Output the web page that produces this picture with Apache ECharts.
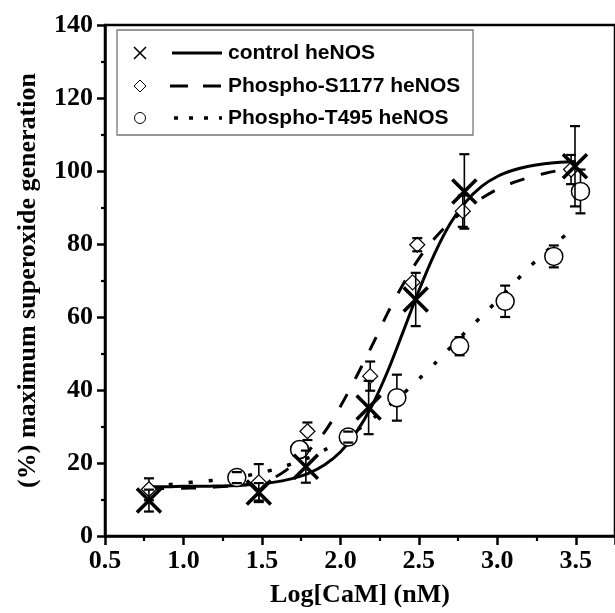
<!DOCTYPE html>
<html><head><meta charset="utf-8">
<script src="https://cdn.jsdelivr.net/npm/echarts@6/dist/echarts.min.js"></script>
<style>html,body{margin:0;padding:0;background:#fff}#c{width:615px;height:613px}</style>
</head><body><div id="c"></div>
<script>
// ---- data ----
const seriesNames = ['control heNOS', 'Phospho-S1177 heNOS', 'Phospho-T495 heNOS'];

const ctrlX   = [0.78, 1.48, 1.78, 2.18, 2.48, 2.79, 3.495];
const ctrlY   = [9.7, 11.9, 19.0, 35.2, 64.8, 94.4, 101.3];
const ctrlErr = [3.0, 2.6, 4.4, 7.3, 7.3, 10.2, 11.0];

const s1177X   = [0.78, 1.48, 1.79, 2.19, 2.46, 2.49, 2.78, 3.47];
const s1177Y   = [12.8, 14.7, 28.7, 43.8, 69.5, 79.8, 89.0, 100.4];
const s1177Err = [3.0, 5.0, 2.4, 4.0, 0, 1.8, 4.3, 4.0];

const t495X   = [1.34, 1.74, 2.05, 2.36, 2.76, 3.05, 3.36, 3.53];
const t495Y   = [16.0, 23.7, 27.1, 37.9, 52.0, 64.3, 76.6, 94.4];
const t495Err = [1.5, 0, 1.5, 6.3, 2.5, 4.3, 3.0, 6.0];

// fitted curves
const fitX = [0.78, 0.9, 1.0, 1.1, 1.2, 1.3, 1.4, 1.5, 1.6, 1.7, 1.8, 1.9, 2.0, 2.1, 2.2, 2.3, 2.4, 2.5, 2.6, 2.7, 2.8, 2.9, 3.0, 3.1, 3.2, 3.3, 3.4, 3.5];
const ctrlFitY  = [13.5, 13.5, 13.6, 13.6, 13.7, 13.8, 14.0, 14.3, 14.9, 15.8, 17.2, 19.5, 23.0, 28.3, 35.6, 45.0, 56.0, 67.2, 77.3, 85.6, 91.6, 95.8, 98.5, 100.2, 101.3, 102.0, 102.4, 102.6];
const s1177FitY = [13.0, 13.0, 13.1, 13.2, 13.4, 13.7, 14.1, 14.8, 16.5, 19.5, 23.5, 28.5, 35.5, 43.5, 52.0, 61.0, 69.0, 76.0, 81.5, 86.0, 89.5, 92.5, 95.0, 96.8, 98.2, 99.3, 100.2, 100.8];
const t495FitX  = [0.78, 0.9, 1.0, 1.1, 1.2, 1.3, 1.4, 1.5, 1.6, 1.7, 1.8, 1.9, 2.0, 2.1, 2.2, 2.3, 2.4, 2.5, 2.6, 2.7, 2.8, 2.9, 3.0, 3.1, 3.2, 3.3, 3.4, 3.45];
const t495FitY  = [13.5, 14.0, 14.5, 14.9, 15.3, 15.9, 16.5, 17.4, 18.5, 19.9, 21.5, 23.6, 26.0, 28.8, 32.0, 35.4, 39.0, 43.0, 47.2, 51.6, 56.0, 60.2, 64.5, 69.0, 73.5, 77.5, 81.2, 83.0];

const xTickLabels = ['0.5', '1.0', '1.5', '2.0', '2.5', '3.0', '3.5'];
const yTickLabels = ['0', '20', '40', '60', '80', '100', '120', '140'];

// ---- helpers ----
const zip2 = (a, b) => a.map((v, i) => [v, b[i]]);
const zip3 = (a, b, c) => a.map((v, i) => [v, b[i], c[i]]);

// Origin-style error bars: stems start at the symbol edge
function makeErr(r) {
  return function (params, api) {
    const x = api.value(0), y = api.value(1), e = api.value(2);
    if (!e) return null;
    const c = api.coord([x, y]);
    const t = api.coord([x, y + e]);
    const b = api.coord([x, y - e]);
    const cw = 5;
    const st = { stroke: '#000', lineWidth: 1.6 };
    const cs = { stroke: '#000', lineWidth: 2.2 };
    const ch = [
      { type: 'line', shape: { x1: t[0] - cw, y1: t[1], x2: t[0] + cw, y2: t[1] }, style: cs },
      { type: 'line', shape: { x1: b[0] - cw, y1: b[1], x2: b[0] + cw, y2: b[1] }, style: cs }
    ];
    if (t[1] < c[1] - r) ch.push({ type: 'line', shape: { x1: c[0], y1: c[1] - r, x2: t[0], y2: t[1] }, style: st });
    if (b[1] > c[1] + r) ch.push({ type: 'line', shape: { x1: c[0], y1: c[1] + r, x2: b[0], y2: b[1] }, style: st });
    return { type: 'group', children: ch };
  };
}

const serif = '"Liberation Serif", "Times New Roman", serif';
const sans = '"Liberation Sans", Arial, sans-serif';
const xPath = 'path://M0,0L10,10M10,0L0,10';

const chart = echarts.init(document.getElementById('c'), null, { renderer: 'canvas' });

// legend drawn as graphic
const lgX = 117, lgY = 30, rowY = [53, 86, 118];
const legendGraphic = [
  { type: 'rect', shape: { x: lgX, y: lgY, width: 356, height: 105 }, style: { fill: '#fff', stroke: '#777', lineWidth: 1.3 }, z: 10 },
  { type: 'line', shape: { x1: 134, y1: rowY[0] - 6, x2: 146, y2: rowY[0] + 6 }, style: { stroke: '#000', lineWidth: 1.6 }, z: 11 },
  { type: 'line', shape: { x1: 146, y1: rowY[0] - 6, x2: 134, y2: rowY[0] + 6 }, style: { stroke: '#000', lineWidth: 1.6 }, z: 11 },
  { type: 'polygon', shape: { points: [[140, rowY[1] - 6], [146, rowY[1]], [140, rowY[1] + 6], [134, rowY[1]]] }, style: { fill: '#fff', stroke: '#000', lineWidth: 1 }, z: 11 },
  { type: 'circle', shape: { cx: 140, cy: rowY[2], r: 5.5 }, style: { fill: '#fff', stroke: '#000', lineWidth: 1 }, z: 11 },
  { type: 'line', shape: { x1: 172, y1: rowY[0], x2: 222, y2: rowY[0] }, style: { stroke: '#000', lineWidth: 3 }, z: 11 },
  { type: 'line', shape: { x1: 170, y1: rowY[1], x2: 222, y2: rowY[1] }, style: { stroke: '#000', lineWidth: 3, lineDash: [18, 15] }, z: 11 },
  { type: 'line', shape: { x1: 174, y1: rowY[2], x2: 222, y2: rowY[2] }, style: { stroke: '#000', lineWidth: 3.5, lineDash: [4, 11] }, z: 11 }
].concat(seriesNames.map((n, i) => ({
  type: 'text', x: 228, y: rowY[i], z: 11,
  style: { text: n, fill: '#000', font: 'bold 21px ' + sans, textVerticalAlign: 'middle' }
})));

const option = {
  animation: false,
  backgroundColor: '#fff',
  grid: { left: 105, top: 25, width: 513, height: 512, show: true, borderColor: '#000', borderWidth: 2.5, backgroundColor: 'transparent' },
  xAxis: {
    type: 'value', min: 0.5, max: 3.75, interval: 0.5,
    name: 'Log[CaM] (nM)', nameLocation: 'middle', nameGap: 46,
    nameTextStyle: { fontFamily: serif, fontWeight: 'bold', fontSize: 26, color: '#000' },
    axisLine: { onZero: false, lineStyle: { color: '#000', width: 2.5 } },
    axisTick: { length: 9, lineStyle: { color: '#000', width: 2.5 } },
    minorTick: { show: true, splitNumber: 2, length: 5, lineStyle: { color: '#000', width: 2.2 } },
    axisLabel: { margin: 12, fontFamily: serif, fontWeight: 'bold', fontSize: 26, color: '#000', showMaxLabel: false,
      formatter: v => { const i = Math.round((v - 0.5) / 0.5); return (Math.abs(v - (0.5 + i * 0.5)) < 1e-6 && xTickLabels[i]) ? xTickLabels[i] : ''; } },
    splitLine: { show: false }
  },
  yAxis: {
    type: 'value', min: 0, max: 140, interval: 20,
    name: '(%) maximum superoxide generation', nameLocation: 'middle', nameGap: 64,
    nameTextStyle: { fontFamily: serif, fontWeight: 'bold', fontSize: 26, color: '#000' },
    axisLine: { onZero: false, lineStyle: { color: '#000', width: 2.5 } },
    axisTick: { length: 8, lineStyle: { color: '#000', width: 2.5 } },
    minorTick: { show: true, splitNumber: 2, length: 4, lineStyle: { color: '#000', width: 2.2 } },
    axisLabel: { margin: 12, fontFamily: serif, fontWeight: 'bold', fontSize: 26, color: '#000',
      formatter: v => yTickLabels[Math.round(v / 20)] },
    splitLine: { show: false }
  },
  graphic: legendGraphic,
  series: [
    { type: 'line', name: seriesNames[0] + ' fit', data: zip2(fitX, ctrlFitY), smooth: 0.3, showSymbol: false, z: 2,
      lineStyle: { color: '#000', width: 3 } },
    { type: 'line', name: seriesNames[1] + ' fit', data: zip2(fitX, s1177FitY), smooth: 0.3, showSymbol: false, z: 2,
      lineStyle: { color: '#000', width: 3, type: [15, 17] } },
    { type: 'line', name: seriesNames[2] + ' fit', data: zip2(t495FitX, t495FitY), smooth: 0.3, showSymbol: false, z: 2,
      lineStyle: { color: '#000', width: 3.5, type: [4, 16] } },
    { type: 'scatter', name: seriesNames[2], data: zip2(t495X, t495Y), symbol: 'circle', symbolSize: 18, z: 3,
      itemStyle: { color: '#fff', borderColor: '#000', borderWidth: 1.5, opacity: 1 } },
    { type: 'scatter', name: seriesNames[1], data: zip2(s1177X, s1177Y), symbol: 'diamond', symbolSize: 15, z: 4,
      itemStyle: { color: '#fff', borderColor: '#000', borderWidth: 1.2, opacity: 1 } },
    { type: 'custom', name: 'err0', data: zip3(ctrlX, ctrlY, ctrlErr), renderItem: makeErr(0), encode: { x: 0, y: 1 }, z: 5 },
    { type: 'custom', name: 'err1', data: zip3(s1177X, s1177Y, s1177Err), renderItem: makeErr(7.5), encode: { x: 0, y: 1 }, z: 5 },
    { type: 'custom', name: 'err2', data: zip3(t495X, t495Y, t495Err), renderItem: makeErr(9), encode: { x: 0, y: 1 }, z: 5 },
    { type: 'scatter', name: seriesNames[0], data: zip2(ctrlX, ctrlY), symbol: xPath, symbolSize: 24, z: 6,
      itemStyle: { color: 'none', borderColor: '#000', borderWidth: 3.6, opacity: 1 } }
  ]
};
chart.setOption(option);
</script>
</body></html>
